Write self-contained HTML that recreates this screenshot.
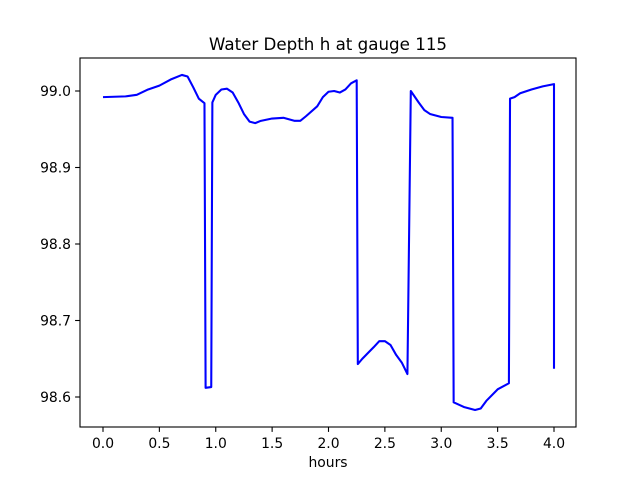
<!DOCTYPE html>
<html><head><meta charset="utf-8"><style>body{margin:0;background:#fff}svg{display:block;font-family:"DejaVu Sans","Liberation Sans",sans-serif}</style></head>
<body>
<svg id="chart" width="640" height="480" xmlns="http://www.w3.org/2000/svg"></svg>
<script>
const times=[0,0.2,0.3,0.4,0.5,0.6,0.7,0.75,0.8,0.85,0.9,0.91,0.96,0.97,1.0,1.05,1.1,1.15,1.2,1.25,1.3,1.35,1.4,1.5,1.6,1.7,1.75,1.8,1.9,1.95,2.0,2.05,2.1,2.15,2.2,2.25,2.26,2.3,2.4,2.45,2.5,2.55,2.6,2.65,2.7,2.73,2.8,2.85,2.9,3.0,3.1,3.11,3.2,3.3,3.35,3.4,3.5,3.6,3.61,3.65,3.7,3.8,3.9,4.0,4.0];
const depths=[98.992,98.993,98.995,99.002,99.007,99.015,99.021,99.019,99.005,98.99,98.984,98.612,98.613,98.985,98.995,99.002,99.003,98.998,98.985,98.97,98.96,98.958,98.961,98.964,98.965,98.961,98.961,98.967,98.98,98.992,98.999,99.0,98.998,99.002,99.01,99.014,98.643,98.65,98.665,98.673,98.673,98.668,98.655,98.645,98.63,99.0,98.985,98.975,98.97,98.966,98.965,98.593,98.587,98.583,98.585,98.595,98.61,98.618,98.99,98.992,98.997,99.002,99.006,99.009,98.637];
const xTicks=[0,0.5,1,1.5,2,2.5,3,3.5,4];
const xTickLabels=["0.0","0.5","1.0","1.5","2.0","2.5","3.0","3.5","4.0"];
const yTicks=[98.6,98.7,98.8,98.9,99.0];
const yTickLabels=["98.6","98.7","98.8","98.9","99.0"];
const svg=document.getElementById('chart');const NS='http://www.w3.org/2000/svg';
const L=80,R=576,T=58,B=427;
const x=v=>103+v*112.75;
const y=v=>397-(v-98.6)*765;
function mk(t,a,p){const e=document.createElementNS(NS,t);for(const k in a)e.setAttribute(k,a[k]);(p||svg).appendChild(e);return e;}
const line=mk('polyline',{points:times.map((t,i)=>x(t)+','+y(depths[i])).join(' '),fill:'none',stroke:'#0000ff','stroke-width':2.08,'stroke-linejoin':'round'});


const frame=mk('rect',{x:L,y:T,width:R-L,height:B-T,fill:'none',stroke:'#000','stroke-width':1.1});


xTicks.forEach((v,i)=>{mk('line',{x1:x(v),x2:x(v),y1:B,y2:B+4.9,stroke:'#000','stroke-width':1.1});
const t=mk('text',{x:x(v),y:B+21,'font-size':13.9,'text-anchor':'middle'});t.textContent=xTickLabels[i];

});
yTicks.forEach((v,i)=>{mk('line',{x1:L,x2:L-4.9,y1:y(v),y2:y(v),stroke:'#000','stroke-width':1.1});
const t=mk('text',{x:L-9,y:y(v)+5,'font-size':13.9,'text-anchor':'end'});t.textContent=yTickLabels[i];

});
const title=mk('text',{x:328,y:50,'font-size':16.7,'text-anchor':'middle'});title.textContent='Water Depth h at gauge 115';


const xl=mk('text',{x:328,y:467,'font-size':13.9,'text-anchor':'middle'});xl.textContent='hours';


</script>
</body></html>
